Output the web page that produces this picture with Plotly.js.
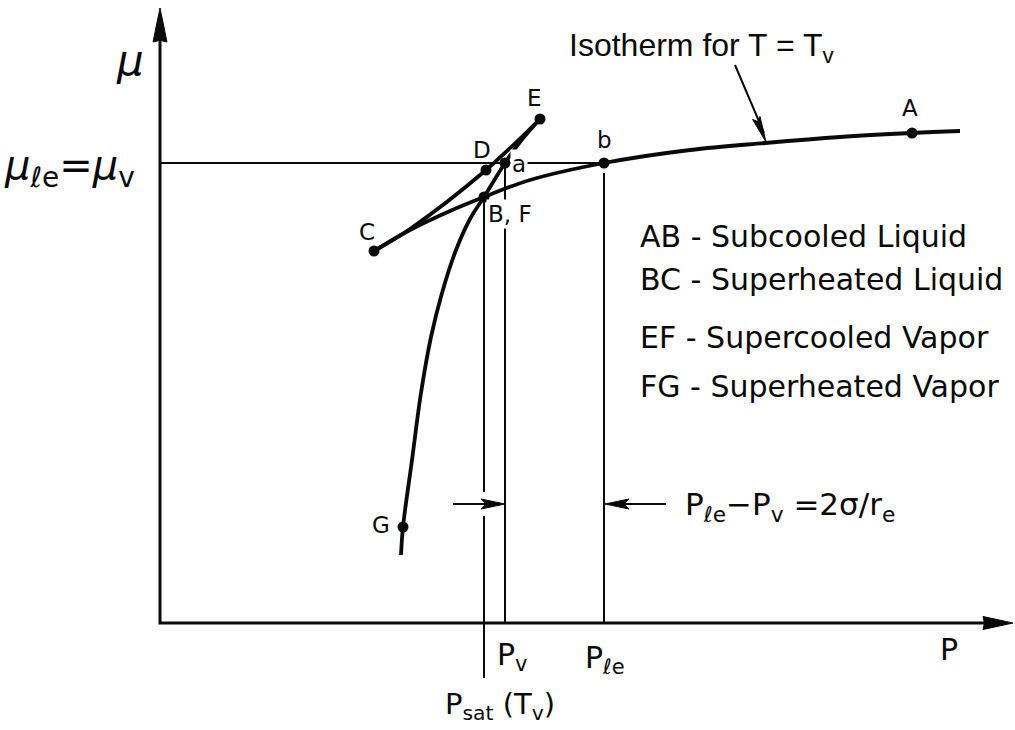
<!DOCTYPE html>
<html>
<head>
<meta charset="utf-8">
<script src="https://cdn.plot.ly/plotly-3.0.1.min.js"></script>
<style>
  html, body { margin: 0; padding: 0; background: #ffffff; }
  #chart { width: 1015px; height: 730px; }
</style>
</head>
<body>
<div id="chart"></div>
<script>
// Chemical potential μ against pressure P along the isotherm T = Tv
// (schematic units, origin at the corner of the axes).

const stateLabels = ['A', 'b', 'D', 'a', 'B, F', 'C', 'E', 'G'];
const stateP  = [752, 444, 326, 345, 324, 214, 380, 243];
const stateMu = [490, 460, 453, 460, 426, 372, 504, 96];

// liquid branch  C – B – b – A
const liquidP  = [214, 250, 290, 324, 370, 444, 530, 605, 680, 752, 800];
const liquidMu = [372, 393, 412, 426, 443, 460, 473, 480, 486, 490, 492];

// vapour branch  G – F – a – E
const vaporP  = [241, 243, 252, 261, 271, 282, 296, 310, 324, 335, 345, 360, 380];
const vaporMu = [68, 96, 163, 230, 286, 330, 373, 404, 426, 444, 460, 481, 504];

// connecting curve  C – D – E
const cdeP  = [214, 250, 326, 380];
const cdeMu = [372, 394, 453, 504];

const muEq = 460;                 // μℓe = μv
const pSat = 324, pV = 345, pLe = 444;
const axisEndP = 853, axisEndMu = 615;
const diffMu = 119;               // level of the Pℓe – Pv marker arrows

const legendLines = [
  'AB - Subcooled Liquid',
  'BC - Superheated Liquid',
  'EF - Supercooled Vapor',
  'FG - Superheated Vapor'
];
const legendMu = [387, 344, 286, 237];

// ---------------------------------------------------------------
const FONT = 'DejaVu Sans, Liberation Sans, sans-serif';
const INK = '#0a0a0a';

// filled arrowhead polygon pointing from (fromP, fromMu) towards the tip
function arrowHead(tipP, tipMu, fromP, fromMu, len, half, notch) {
  const dx = tipP - fromP, dy = tipMu - fromMu;
  const L = Math.hypot(dx, dy);
  const ux = dx / L, uy = dy / L, nx = -uy, ny = ux;
  const bx = tipP - ux * len, by = tipMu - uy * len;
  const mx = tipP - ux * len * (1 - notch), my = tipMu - uy * len * (1 - notch);
  return {
    type: 'scatter', mode: 'lines', fill: 'toself', fillcolor: INK,
    line: { color: INK, width: 1 }, hoverinfo: 'skip', showlegend: false,
    x: [tipP, bx + nx * half, mx, bx - nx * half, tipP],
    y: [tipMu, by + ny * half, my, by - ny * half, tipMu]
  };
}

function line(x, y, width, shape) {
  return {
    type: 'scatter', mode: 'lines', x: x, y: y, hoverinfo: 'skip', showlegend: false,
    line: { color: INK, width: width, shape: shape || 'linear', smoothing: 1 },
    connectgaps: false
  };
}

const gap = 12;
const traces = [
  // reference levels
  line([0, pLe], [muEq, muEq], 2),
  line([pSat, pSat, null, pSat, pSat],
       [stateMu[4], diffMu + gap, null, diffMu - gap, -55], 2),
  line([pV, pV], [muEq, 0], 2),
  line([pLe, pLe], [muEq - 10, 0], 2),
  // Pℓe – Pv markers
  line([pSat - 31, pV - 10], [diffMu, diffMu], 2),
  arrowHead(pV, diffMu, pSat - 31, diffMu, 24, 5, 0.2),
  line([pLe + 62, pLe + 10], [diffMu, diffMu], 2),
  arrowHead(pLe + 1, diffMu, pLe + 62, diffMu, 24, 5, 0.2),
  // axes
  line([0, 0, axisEndP - 20], [axisEndMu - 20, 0, 0], 3),
  arrowHead(0, axisEndMu, 0, 0, 34, 7, 0.05),
  arrowHead(axisEndP, 0, 0, 0, 30, 6.5, 0.05),
  // curves
  line(liquidP, liquidMu, 3.8, 'spline'),
  line(vaporP, vaporMu, 3.8, 'spline'),
  line(cdeP, cdeMu, 3.8, 'spline'),
  // isotherm pointer
  line([575, 604], [558, 490], 2),
  arrowHead(606, 481, 575, 558, 26, 4, 0.15),
  // state points
  {
    type: 'scatter', mode: 'markers', x: stateP, y: stateMu, text: stateLabels,
    hoverinfo: 'text', showlegend: false,
    marker: { color: INK, size: 11 }
  }
];

// label offsets from each state point
const labelOffset = {
  'A': [-2, 25], 'b': [0, 23], 'D': [-4, 20], 'a': [14, -1],
  'B, F': [26, -17], 'C': [-7, 19], 'E': [-6, 21], 'G': [-22, 2]
};

const annotations = stateLabels.map((t, i) => ({
  x: stateP[i] + labelOffset[t][0], y: stateMu[i] + labelOffset[t][1],
  text: t, showarrow: false, xanchor: 'center', yanchor: 'middle',
  font: { family: FONT, size: 23, color: INK },
  bgcolor: (t === 'a' || t === 'B, F') ? '#ffffff' : 'rgba(0,0,0,0)',
  borderpad: 1
}));

legendLines.forEach((t, i) => annotations.push({
  x: 478, y: legendMu[i], text: t, showarrow: false,
  xanchor: 'left', yanchor: 'middle',
  font: { family: FONT, size: 30, color: INK }
}));

annotations.push(
  { x: 407, y: 576, text: 'Isotherm for T = T<sub>v</sub>', showarrow: false,
    xanchor: 'left', yanchor: 'middle',
    font: { family: 'Liberation Sans, Arial, sans-serif', size: 32, color: INK } },
  { x: -30, y: 563, text: '<i>μ</i>', showarrow: false, xanchor: 'center', yanchor: 'middle',
    font: { family: FONT, size: 42, color: INK } },
  { x: -23, y: 455, text: '<i>μ</i><sub>ℓe</sub>=<i>μ</i><sub>v</sub>', showarrow: false,
    xanchor: 'right', yanchor: 'middle',
    font: { family: FONT, size: 40, color: INK } },
  { x: 789, y: -26, text: 'P', showarrow: false, xanchor: 'center', yanchor: 'middle',
    font: { family: FONT, size: 30, color: INK } },
  { x: pV - 10, y: -12, text: 'P<sub>v</sub>', showarrow: false, xanchor: 'left', yanchor: 'top',
    font: { family: FONT, size: 30, color: INK } },
  { x: pLe - 21, y: -15, text: 'P<sub>ℓe</sub>', showarrow: false, xanchor: 'left', yanchor: 'top',
    font: { family: FONT, size: 30, color: INK } },
  { x: pSat - 41, y: -62, text: 'P<sub>sat</sub> (T<sub>v</sub>)', showarrow: false,
    xanchor: 'left', yanchor: 'top',
    font: { family: FONT, size: 29, color: INK } },
  { x: pLe + 79, y: diffMu - 2, text: 'P<sub>ℓe</sub>−P<sub>v</sub> =2σ/r<sub>e</sub>',
    showarrow: false, xanchor: 'left', yanchor: 'middle',
    font: { family: FONT, size: 31, color: INK } }
);

const layout = {
  width: 1015, height: 730,
  margin: { l: 0, r: 0, t: 0, b: 0, pad: 0 },
  paper_bgcolor: '#ffffff', plot_bgcolor: '#ffffff',
  showlegend: false,
  xaxis: { range: [-160, 855], visible: false, fixedrange: true },
  yaxis: { range: [-107, 623], visible: false, fixedrange: true },
  annotations: annotations
};

Plotly.newPlot('chart', traces, layout, { staticPlot: true, displayModeBar: false });
</script>
</body>
</html>
